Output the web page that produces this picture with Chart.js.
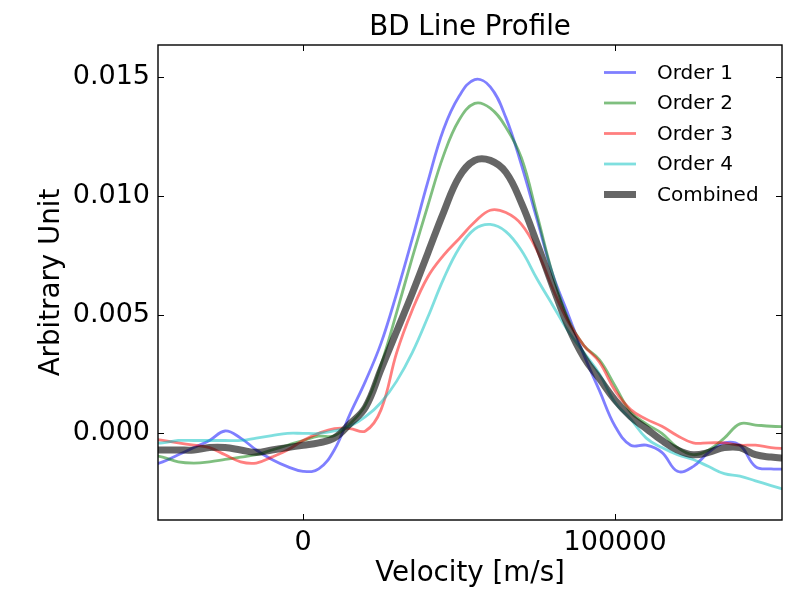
<!DOCTYPE html>
<html>
<head>
<meta charset="utf-8">
<title>BD Line Profile</title>
<script src="https://cdn.jsdelivr.net/npm/chart.js@4.4.0/dist/chart.umd.min.js"></script>
<style>
  html, body { margin: 0; padding: 0; background: #fff; }
</style>
</head>
<body>
<canvas id="profileChart" width="800" height="600"></canvas>
<script>
// velocity grid [m/s]
const velocity = [
  -50000, -45000, -40000, -35000, -30000, -25000, -20000, -15000, -10000, -5000,
  0, 5000, 10000, 15000, 20000, 25000, 30000, 35000, 40000, 45000,
  50000, 55000, 60000, 65000, 70000, 75000, 80000, 85000, 90000, 95000,
  100000, 105000, 110000, 115000, 120000, 125000, 130000, 135000, 140000, 145000,
  150000, 155000
];

const order1 = [
  -0.0014, -0.0012, -0.0009, -0.0006, -0.0003, 0.0001, -0.0002, -0.0007, -0.0011, -0.0014,
  -0.0016, -0.0015, -0.0007, 0.0008, 0.0022, 0.0038, 0.0059, 0.0082, 0.0106, 0.0128,
  0.0142, 0.0149, 0.0146, 0.0133, 0.0113, 0.0090, 0.0067, 0.0050, 0.0033, 0.0018,
  0.0003, -0.0005, -0.0005, -0.0008, -0.0016, -0.0014, -0.0008, -0.0004, -0.0005, -0.0014,
  -0.0015, -0.0015
];

const order2 = [
  -0.0009, -0.0010, -0.0012, -0.00125, -0.0012, -0.0011, -0.0010, -0.0009, -0.0007, -0.0005,
  -0.0003, -0.00012, -0.0001, 0.0004, 0.0012, 0.0029, 0.0051, 0.0074, 0.0096, 0.0117,
  0.0132, 0.0139, 0.0137, 0.0129, 0.0116, 0.0092, 0.0067, 0.0048, 0.0037, 0.0031,
  0.0020, 0.0009, 0.0004, 0.0000, -0.0006, -0.0009, -0.0007, -0.0002, 0.0004, 0.00035,
  0.0003, 0.00028
];

const order3 = [
  -0.0002, -0.0003, -0.0004, -0.0005, -0.0006, -0.0009, -0.0012, -0.00125, -0.0010, -0.0007,
  -0.0003, 0.0000, 0.0002, 0.0002, 0.0001, 0.0010, 0.0034, 0.0052, 0.0066, 0.0075,
  0.0082, 0.0089, 0.0094, 0.0093, 0.0088, 0.0077, 0.0061, 0.0047, 0.0037, 0.0030,
  0.0018, 0.0010, 0.0006, 0.0003, -0.0001, -0.0004, -0.0004, -0.0004, -0.0005, -0.0005,
  -0.0006, -0.00065
];

const order4 = [
  -0.0004, -0.0004, -0.0003, -0.0003, -0.0003, -0.0003, -0.0003, -0.0002, -0.0001, 0.0000,
  0.0000, 0.0000, 0.0001, 0.0003, 0.0007, 0.0013, 0.0022, 0.0034, 0.0049, 0.0065,
  0.0078, 0.0086, 0.0088, 0.0085, 0.0077, 0.0065, 0.0054, 0.0043, 0.0034, 0.0025,
  0.0013, 0.0006, -0.0002, -0.0006, -0.0009, -0.0011, -0.0014, -0.0017, -0.0018, -0.0020,
  -0.0022, -0.0024
];

const combined = [
  -0.0007, -0.0007, -0.0007, -0.0007, -0.0006, -0.0006, -0.0007, -0.0008, -0.0007, -0.0006,
  -0.0005, -0.0004, -0.0002, 0.0004, 0.0011, 0.0027, 0.0043, 0.0059, 0.0076, 0.0093,
  0.0108, 0.0115, 0.0115, 0.0110, 0.0097, 0.0080, 0.0062, 0.0045, 0.0032, 0.0023,
  0.0014, 0.0007, 0.0002, -0.0003, -0.0007, -0.0009, -0.0008, -0.0006, -0.0006, -0.0009,
  -0.0010, -0.00105
];

const seriesLabels = ['Order 1', 'Order 2', 'Order 3', 'Order 4', 'Combined'];
const chartTitle = 'BD Line Profile';
const xTicks = [0, 100000];
const yTicks = [0, 0.005, 0.010, 0.015];

const FONT = '"DejaVu Sans", sans-serif';

const makeLine = (label, values, color, width, order) => ({
  label: label,
  data: values.map((v, i) => ({ x: velocity[i], y: v })),
  borderColor: color,
  backgroundColor: color,
  borderWidth: width,
  pointRadius: 0,
  fill: false,
  tension: 0.4,
  clip: 0,
  order: order,
});

// title centred over the plot area, like matplotlib
const axesTitle = {
  id: 'axesTitle',
  afterDraw(chart) {
    const { ctx, chartArea: a } = chart;
    ctx.save();
    ctx.font = '27.7px ' + FONT;
    ctx.fillStyle = '#000';
    ctx.textAlign = 'center';
    ctx.textBaseline = 'middle';
    ctx.fillText(chartTitle, (a.left + a.right) / 2, a.top - 17);
    ctx.restore();
  },
};

// frame with inward ticks on all four sides
const frameTicks = {
  id: 'frameTicks',
  afterDatasetsDraw(chart) {
    const { ctx, chartArea: a, scales } = chart;
    const len = 6;
    ctx.save();
    ctx.strokeStyle = '#000';
    ctx.lineWidth = 1;
    ctx.beginPath();
    scales.x.ticks.forEach((t) => {
      const px = Math.round(scales.x.getPixelForValue(t.value)) + 0.5;
      ctx.moveTo(px, a.bottom); ctx.lineTo(px, a.bottom - len);
      ctx.moveTo(px, a.top); ctx.lineTo(px, a.top + len);
    });
    scales.y.ticks.forEach((t) => {
      const py = Math.round(scales.y.getPixelForValue(t.value)) + 0.5;
      ctx.moveTo(a.left, py); ctx.lineTo(a.left + len, py);
      ctx.moveTo(a.right, py); ctx.lineTo(a.right - len, py);
    });
    ctx.stroke();
    ctx.lineWidth = 1.4;
    ctx.strokeRect(a.left, a.top, a.right - a.left, a.bottom - a.top);
    ctx.restore();
  },
};

// legend inside the upper right corner, no frame
const insideLegend = {
  id: 'insideLegend',
  afterDraw(chart) {
    const { ctx, chartArea: a } = chart;
    ctx.save();
    ctx.font = '20px ' + FONT;
    ctx.textBaseline = 'middle';
    ctx.textAlign = 'left';
    chart.data.datasets.forEach((ds, i) => {
      const y = a.top + 27.5 + i * 30.5;
      ctx.strokeStyle = ds.borderColor;
      ctx.lineWidth = ds.borderWidth;
      ctx.beginPath();
      ctx.moveTo(a.right - 178, y);
      ctx.lineTo(a.right - 146, y);
      ctx.stroke();
      ctx.fillStyle = '#000';
      ctx.fillText(ds.label, a.right - 125, y + 1);
    });
    ctx.restore();
  },
};

const ctx = document.getElementById('profileChart').getContext('2d');
new Chart(ctx, {
  type: 'line',
  data: {
    datasets: [
      makeLine(seriesLabels[0], order1, 'rgba(0, 0, 255, 0.5)', 2.8, 5),
      makeLine(seriesLabels[1], order2, 'rgba(0, 128, 0, 0.5)', 2.8, 4),
      makeLine(seriesLabels[2], order3, 'rgba(255, 0, 0, 0.5)', 2.8, 3),
      makeLine(seriesLabels[3], order4, 'rgba(0, 191, 191, 0.5)', 2.8, 2),
      makeLine(seriesLabels[4], combined, 'rgba(0, 0, 0, 0.6)', 7, 1),
    ],
  },
  options: {
    responsive: false,
    devicePixelRatio: 1,
    animation: false,
    layout: { padding: { left: 0, right: 18, top: 45, bottom: 0 } },
    plugins: {
      legend: { display: false },
      tooltip: { enabled: false },
      title: { display: false },
    },
    scales: {
      x: {
        type: 'linear',
        min: -46500,
        max: 153500,
        afterBuildTicks: (scale) => { scale.ticks = xTicks.map((v) => ({ value: v })); },
        afterFit: (scale) => { scale.height = 80; },
        grid: { display: false, drawTicks: false },
        border: { display: false },
        ticks: {
          color: '#000',
          padding: 7,
          maxRotation: 0,
          font: { family: FONT, size: 27 },
          callback: (v) => String(v),
        },
        title: {
          display: true,
          text: 'Velocity [m/s]',
          color: '#000',
          font: { family: FONT, size: 27.7, lineHeight: 1.2 },
          padding: { top: 0, bottom: 10 },
        },
      },
      y: {
        type: 'linear',
        min: -0.00365,
        max: 0.01636,
        afterBuildTicks: (scale) => { scale.ticks = yTicks.map((v) => ({ value: v })); },
        afterFit: (scale) => { scale.width = 158; },
        grid: { display: false, drawTicks: false },
        border: { display: false },
        ticks: {
          color: '#000',
          padding: 8,
          font: { family: FONT, size: 27 },
          callback: (v) => Number(v).toFixed(3),
        },
        title: {
          display: true,
          text: 'Arbitrary Unit',
          color: '#000',
          font: { family: FONT, size: 27.7, lineHeight: 1.2 },
          padding: { top: 35, bottom: 0 },
        },
      },
    },
  },
  plugins: [axesTitle, frameTicks, insideLegend],
});
</script>
</body>
</html>
